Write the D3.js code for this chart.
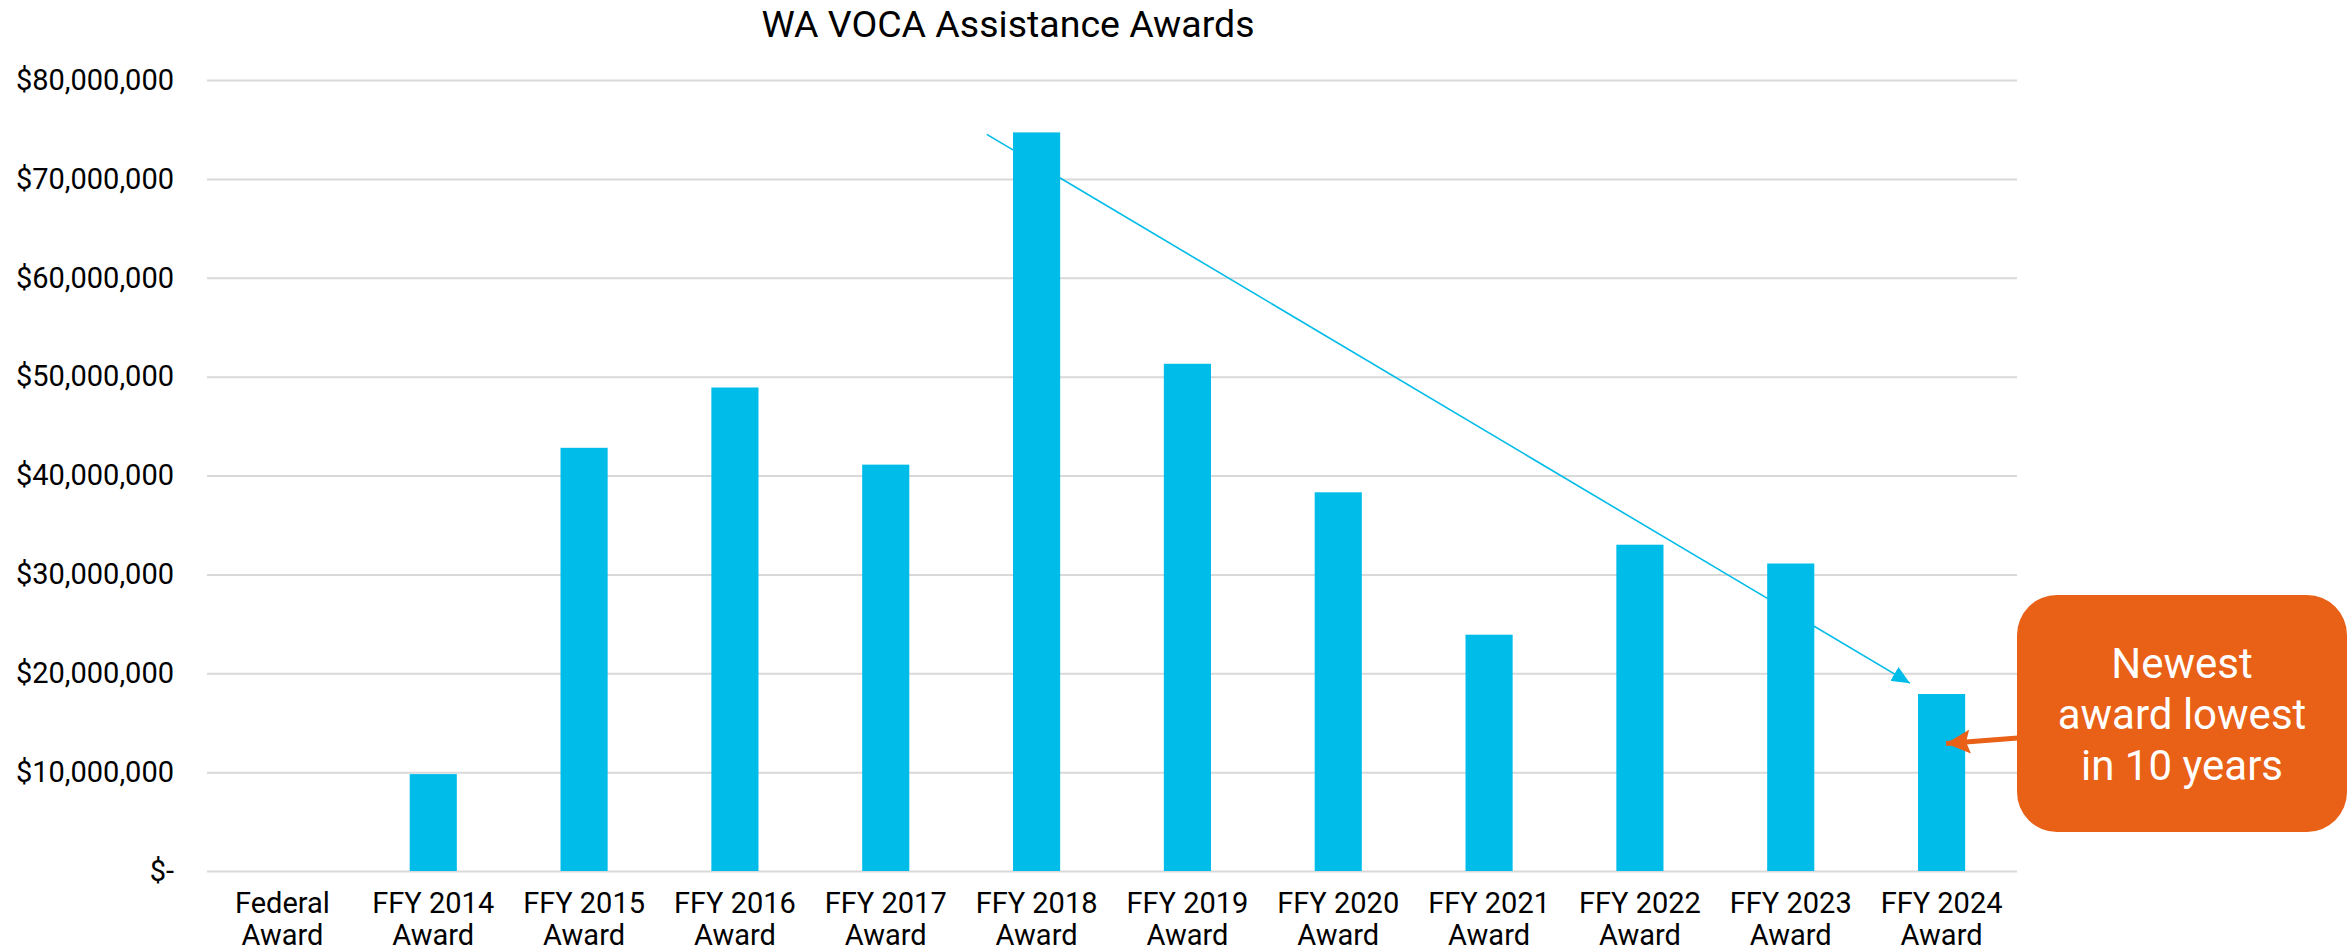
<html>
<head>
<meta charset="utf-8">
<script src="https://d3js.org/d3.v7.min.js"></script>
<style>
  body { margin: 0; background: #fff; }
  text { font-family: Roboto, "Noto Sans", sans-serif; fill: #000; }
</style>
</head>
<body>
<svg id="chart"></svg>
<script>
// data
var categories = ["Federal Award", "FFY 2014 Award", "FFY 2015 Award", "FFY 2016 Award",
  "FFY 2017 Award", "FFY 2018 Award", "FFY 2019 Award", "FFY 2020 Award",
  "FFY 2021 Award", "FFY 2022 Award", "FFY 2023 Award", "FFY 2024 Award"];
var awards = [0, 9800000, 42800000, 48900000, 41100000, 74700000, 51300000,
  38300000, 23900000, 33000000, 31100000, 17900000];
var yTicks = [0, 10000000, 20000000, 30000000, 40000000, 50000000, 60000000, 70000000, 80000000];
var title = "WA VOCA Assistance Awards";
var calloutLines = ["Newest", "award lowest", "in 10 years"];
// trend arrow, in category index / dollar units
var trendFrom = [4.67, 74500000];
var trendTo = [10.79, 19000000];
// callout pointer target on the last bar
var pointAt = [11.03, 12900000];

var W = 2348, H = 948;
var plotL = 207, plotR = 2017, plotT = 80, plotB = 871;

var svg = d3.select("#chart").attr("width", W).attr("height", H);

var x = d3.scaleBand().domain(categories).range([plotL, plotR])
  .paddingInner(0.6875).paddingOuter(0.34375);
var y = d3.scaleLinear().domain([0, 80000000]).range([plotB, plotT]);
// fractional category position -> pixel
var xAt = function(i) { return plotL + x.step() * (i + 0.5); };

svg.append("text")
  .attr("x", 1008).attr("y", 37)
  .attr("text-anchor", "middle")
  .style("font-size", "37.5px")
  .text(title);

var fmt = d3.format(",");
var yAxis = svg.append("g")
  .attr("transform", "translate(" + plotL + ",0)")
  .call(d3.axisLeft(y).tickValues(yTicks).tickSize(-(plotR - plotL)).tickPadding(33)
    .tickFormat(function(d) { return d === 0 ? "$-" : "$" + fmt(d); }));
yAxis.select(".domain").remove();
yAxis.selectAll(".tick line").attr("stroke", "#d9d9d9").attr("stroke-width", 2);
yAxis.selectAll(".tick text").style("font-size", "29px").attr("fill", "#000");

svg.append("g").selectAll("rect").data(awards).enter().append("rect")
  .attr("x", function(d, i) { return x(categories[i]); })
  .attr("y", function(d) { return y(d); })
  .attr("width", x.bandwidth())
  .attr("height", function(d) { return plotB - y(d); })
  .attr("fill", "#00BCE8");

var xAxis = svg.append("g")
  .attr("transform", "translate(0," + plotB + ")")
  .call(d3.axisBottom(x).tickSize(0).tickFormat(""));
xAxis.select(".domain").remove();
xAxis.selectAll(".tick").append("text")
  .style("font-size", "29px")
  .attr("text-anchor", "middle")
  .each(function(d) {
    var k = d.lastIndexOf(" ");
    var t = d3.select(this);
    t.append("tspan").attr("x", 0).attr("y", 42).text(d.slice(0, k));
    t.append("tspan").attr("x", 0).attr("y", 74).text(d.slice(k + 1));
  });

var defs = svg.append("defs");
defs.append("marker").attr("id", "blueHead")
  .attr("markerUnits", "userSpaceOnUse")
  .attr("viewBox", "0 0 18 16").attr("refX", 18).attr("refY", 8)
  .attr("markerWidth", 18).attr("markerHeight", 16).attr("orient", "auto")
  .append("path").attr("d", "M0,0 L18,8 L0,16 Z").attr("fill", "#00BCE8");
defs.append("marker").attr("id", "orangeHead")
  .attr("markerUnits", "userSpaceOnUse")
  .attr("viewBox", "0 0 24 24").attr("refX", 24).attr("refY", 12)
  .attr("markerWidth", 24).attr("markerHeight", 24).attr("orient", "auto")
  .append("path").attr("d", "M0,0 L24,12 L0,24 L4,12 Z").attr("fill", "#E96017");

svg.append("line")
  .attr("x1", xAt(trendFrom[0])).attr("y1", y(trendFrom[1]))
  .attr("x2", xAt(trendTo[0])).attr("y2", y(trendTo[1]))
  .attr("stroke", "#00BCE8").attr("stroke-width", 1.6)
  .attr("marker-end", "url(#blueHead)");

// callout box
var bx = plotR, by = 595, bw = 330, bh = 237;
svg.append("rect")
  .attr("x", bx).attr("y", by).attr("width", bw).attr("height", bh)
  .attr("rx", 40).attr("ry", 40)
  .attr("fill", "#E96017");
svg.append("line")
  .attr("x1", bx + 1).attr("y1", 738)
  .attr("x2", xAt(pointAt[0])).attr("y2", y(pointAt[1]))
  .attr("stroke", "#E96017").attr("stroke-width", 5)
  .attr("marker-end", "url(#orangeHead)");
svg.append("text")
  .attr("text-anchor", "middle")
  .style("font-size", "42px")
  .selectAll("tspan").data(calloutLines).enter().append("tspan")
  .attr("x", bx + bw / 2)
  .attr("y", function(d, i) { return 678 + i * 51; })
  .attr("fill", "#fff")
  .text(function(d) { return d; });
</script>
</body>
</html>
